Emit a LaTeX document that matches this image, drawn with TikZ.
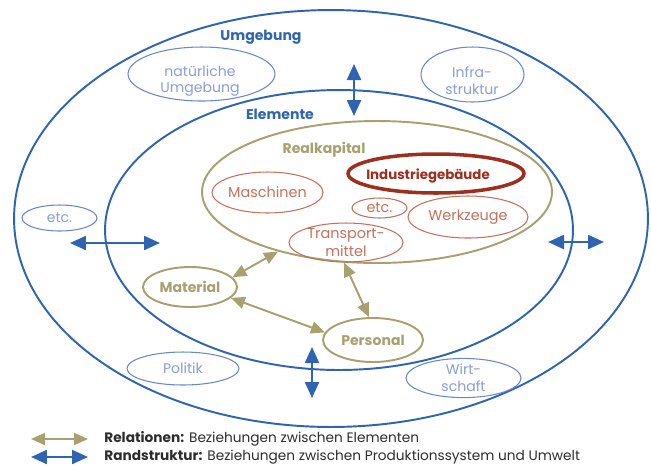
\documentclass[tikz,border=0pt]{standalone}
\usepackage{fontspec}
\setmainfont{Poppins}
\usetikzlibrary{arrows.meta,shapes.geometric}

\definecolor{umblau}{RGB}{46,100,178}
\definecolor{hellblau}{RGB}{105,135,205}
\definecolor{hellblautext}{RGB}{135,158,215}
\definecolor{oliv}{RGB}{168,160,110}
\definecolor{rotdünn}{RGB}{196,112,92}
\definecolor{rotdick}{RGB}{158,46,30}
\definecolor{legtext}{RGB}{45,45,45}

\tikzset{
	ring/.style={ellipse, draw=umblau, line width=1.1pt, inner sep=0pt},
	umwelt/.style={ellipse, draw=hellblau, line width=0.6pt, inner sep=0pt, text=hellblautext, align=center, font=\fontsize{8}{9.6}\selectfont},
	teil/.style={ellipse, draw=rotdünn, line width=0.6pt, inner sep=0pt, text=rotdünn, align=center, font=\fontsize{8.2}{9.8}\selectfont},
	element/.style={ellipse, draw=oliv, line width=1.1pt, inner sep=0pt, text=oliv, font=\bfseries\fontsize{8}{9.6}\selectfont},
	titel/.style={font=\bfseries\fontsize{8}{9.6}\selectfont, inner sep=0pt},
	relpfeil/.style={{Triangle[length=0.28cm,width=0.24cm]}-{Triangle[length=0.28cm,width=0.24cm]}, draw=oliv, fill=oliv, line width=1.1pt},
	randpfeil/.style={{Triangle[length=0.32cm,width=0.28cm]}-{Triangle[length=0.32cm,width=0.28cm]}, draw=umblau, fill=umblau, line width=1.3pt},
	legende/.style={anchor=west, inner sep=0pt, text=legtext, font=\fontsize{7.8}{9}\selectfont}
}

\begin{document}
\begin{tikzpicture}[x=0.02cm, y=-0.02cm]
	\useasboundingbox (0,0) rectangle (651,468);

	% Umgebung und Elemente
	\node[ring, minimum width=12.68cm, minimum height=8.34cm] (umg) at (331,218.5) {};
	\node[ring, minimum width=9.36cm, minimum height=5.6cm] (elem) at (339,230) {};
	\node[titel, text=umblau] (umgT) at (261,37) {Umgebung};
	\node[titel, text=umblau] (elemT) at (280,114) {Elemente};

	% Umgebung: Teile
	\node[umwelt, minimum width=2.94cm, minimum height=1.08cm] (natur) at (201.5,74) {};
	\node[umwelt, draw=none] (naturT) at (200,81) {natürliche\\Umgebung};
	\node[umwelt, minimum width=2.06cm, minimum height=1.1cm] (infra) at (472.5,74.5) {};
	\node[umwelt, draw=none] (infraT) at (472,80.5) {Infra-\\struktur};
	\node[umwelt, minimum width=1.5cm, minimum height=0.52cm] (etcU) at (59.5,218) {etc.};
	\node[umwelt, minimum width=2.24cm, minimum height=0.66cm] (polit) at (183,368.5) {Politik};
	\node[umwelt, minimum width=2.3cm, minimum height=0.6cm] (wirt) at (463.5,378) {Wirt-\\schaft};

	% Realkapital
	\node[element, minimum width=7cm, minimum height=2.84cm] (realk) at (377,192) {};
	\node[titel, text=oliv] (realkT) at (324,150) {Realkapital};
	\node[teil, draw=rotdick, text=rotdick, line width=2pt, font=\bfseries\fontsize{7.6}{9}\selectfont, minimum width=3.52cm, minimum height=0.78cm] (indus) at (436,173.5) {};
	\node[inner sep=0pt, text=rotdick, font=\bfseries\fontsize{7.6}{9}\selectfont] (indusT) at (428,176) {Industriegebäude};
	\node[teil, minimum width=2.18cm, minimum height=0.82cm] (masch) at (267.5,192.5) {Maschinen};
	\node[teil, minimum width=1.1cm, minimum height=0.4cm] (etcR) at (379.5,208) {etc.};
	\node[teil, minimum width=2.4cm, minimum height=0.84cm] (werk) at (468,217) {Werkzeuge};
	\node[teil, minimum width=2.28cm, minimum height=0.78cm] (trans) at (346,242.5) {Transport-\\mittel};

	% Material, Personal
	\node[element, minimum width=1.88cm, minimum height=0.8cm] (mat) at (190,287) {Material};
	\node[element, minimum width=2cm, minimum height=0.88cm] (pers) at (373,340) {Personal};

	% Relationen
	\draw[relpfeil] (mat.13) -- (realk.211);
	\draw[relpfeil] (realk.245) -- (pers.100);
	\draw[relpfeil] (mat.-15) -- (pers.171);

	% Randstruktur
	\coordinate (obenA) at (354,64);
	\coordinate (obenB) at (354,116);
	\coordinate (linksA) at (70,243);
	\coordinate (linksB) at (160,243);
	\coordinate (rechtsA) at (548,242);
	\coordinate (rechtsB) at (604,242);
	\coordinate (untenA) at (312,347);
	\coordinate (untenB) at (312,398);
	\draw[randpfeil] (obenA) -- (obenB);
	\draw[randpfeil] (linksA) -- (linksB);
	\draw[randpfeil] (rechtsA) -- (rechtsB);
	\draw[randpfeil] (untenA) -- (untenB);

	% Legende
	\coordinate (leg1A) at (31,439);
	\coordinate (leg1B) at (88,439);
	\coordinate (leg2A) at (31,457);
	\coordinate (leg2B) at (88,457);
	\draw[relpfeil] (leg1A) -- (leg1B);
	\draw[randpfeil] (leg2A) -- (leg2B);
	\node[legende] (leg1) at (104,439) {\textbf{Relationen:} Beziehungen zwischen Elementen};
	\node[legende] (leg2) at (104,457) {\textbf{Randstruktur:} Beziehungen zwischen Produktionssystem und Umwelt};
\end{tikzpicture}
\end{document}
